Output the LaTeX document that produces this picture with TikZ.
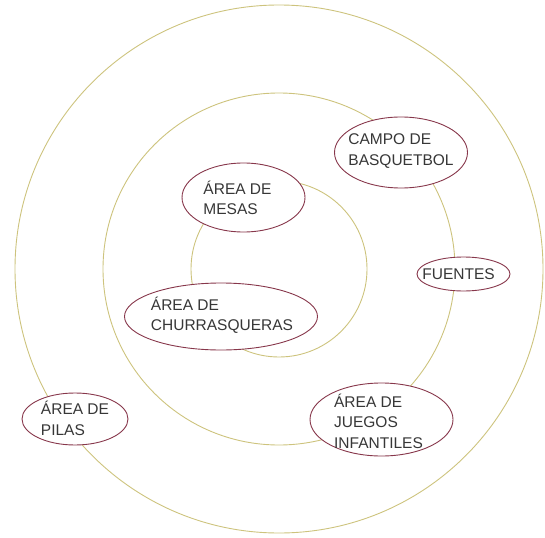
\documentclass[tikz,border=0pt]{standalone}
\usepackage{fontspec}
\setmainfont{Liberation Sans}
\usetikzlibrary{shapes.geometric}
\definecolor{ringcol}{RGB}{205,195,125}
\definecolor{zonecol}{RGB}{135,55,75}
\definecolor{textcol}{RGB}{55,55,55}

\begin{document}
\begin{tikzpicture}[
  x=1pt, y=-1pt,
  ring/.style={draw=ringcol, line width=0.9pt},
  zone/.style={ellipse, draw=zonecol, line width=0.9pt, fill=white, inner sep=0pt},
  lbl/.style={align=left, inner sep=0pt, text=textcol,
    font=\fontsize{15.5}{20.5}\selectfont},
]
\useasboundingbox (0,0) rectangle (545,537);

% rings
\coordinate (mid) at (279,269);
\draw[ring] (mid) circle[radius=88pt];
\draw[ring] (mid) circle[radius=176pt];
\draw[ring] (mid) circle[radius=264pt];

% zones
\node[zone, minimum width=133pt, minimum height=71pt] (campo) at (401,152.5) {};
\node[zone, minimum width=123pt, minimum height=69pt] (mesas) at (243.5,197.5) {};
\node[zone, minimum width=93pt, minimum height=34pt] (fuentes) at (463.5,274) {};
\node[zone, minimum width=193pt, minimum height=67pt] (churras) at (221,316.5) {};
\node[zone, minimum width=106pt, minimum height=52pt] (pilas) at (75,419) {};
\node[zone, minimum width=143pt, minimum height=73pt] (juegos) at (381.5,419.5) {};

% labels
\node[lbl] (campo-t) at (401,151) {CAMPO DE\\BASQUETBOL};
\node[lbl] (mesas-t) at (237.5,198) {ÁREA DE\\MESAS};
\node[lbl] (fuentes-t) at (458.5,274) {FUENTES};
\node[lbl] (churras-t) at (222,315) {ÁREA DE\\CHURRASQUERAS};
\node[lbl] (pilas-t) at (75,418.5) {ÁREA DE\\PILAS};
\node[lbl] (juegos-t) at (378.5,421) {ÁREA DE\\JUEGOS\\INFANTILES};
\end{tikzpicture}
\end{document}
